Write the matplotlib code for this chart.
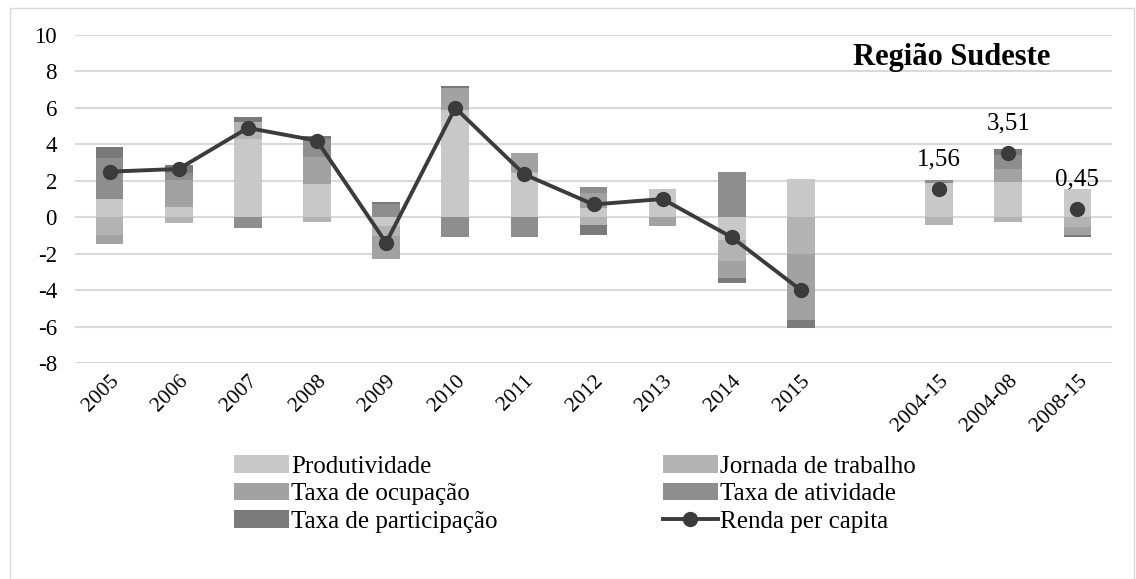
import numpy as np
import matplotlib
matplotlib.use("Agg")
import matplotlib.pyplot as plt
from matplotlib.patches import Patch, Rectangle
from matplotlib.lines import Line2D

plt.rcParams['font.family'] = ['Liberation Serif', 'DejaVu Serif']

categories = ['2005', '2006', '2007', '2008', '2009', '2010', '2011', '2012',
              '2013', '2014', '2015', '', '2004-15', '2004-08', '2008-15']

produtividade = [1.0, 0.55, 4.3, 1.8, -0.5, 5.9, 2.4, 0.48, 1.54, -1.27, 2.1,
                 np.nan, 1.88, 1.94, 1.54]
jornada = [-1.0, -0.3, 0.9, -0.25, -0.55, 0.0, 0.1, -0.44, 0.0, -1.12, -2.0,
           np.nan, -0.45, -0.25, -0.55]
ocupacao = [-0.45, 1.5, 0.0, 1.5, -1.22, 1.2, 1.0, 0.86, -0.5, -0.96, -3.65,
            np.nan, 0.0, 0.73, -0.4]
atividade = [2.25, 0.35, -0.6, 1.0, 0.7, -1.1, -1.1, 0.3, 0.0, 2.5, 0.0,
             np.nan, 0.15, 0.75, 0.0]
participacao = [0.62, 0.45, 0.3, 0.13, 0.15, 0.1, 0.05, -0.55, 0.0, -0.28, -0.45,
                np.nan, 0.0, 0.35, -0.15]
renda = [2.5, 2.65, 4.9, 4.2, -1.4, 6.0, 2.35, 0.7, 1.0, -1.1, -4.0,
         np.nan, 1.56, 3.51, 0.45]

series_names = ['Produtividade', 'Jornada de trabalho', 'Taxa de ocupação',
                'Taxa de atividade', 'Taxa de participação']
series_colors = ['#c8c8c8', '#b3b3b3', '#a2a2a2', '#8e8e8e', '#7a7a7a']
line_color = '#3b3b3b'

W, H = 1136, 579
fig = plt.figure(figsize=(W / 100, H / 100), dpi=100)
ax = fig.add_axes([75 / W, 1 - 363 / H, (1112 - 75) / W, (363 - 35) / H])

n = len(categories)
x = np.arange(n)
pos_base = np.zeros(n)
neg_base = np.zeros(n)
handles = []
for vals, color, name in zip([produtividade, jornada, ocupacao, atividade, participacao],
                             series_colors, series_names):
    v = np.nan_to_num(np.array(vals, dtype=float))
    bottom = np.where(v >= 0, pos_base, neg_base)
    ax.bar(x, v, 0.4, bottom=bottom, color=color, zorder=2, linewidth=0)
    pos_base += np.where(v > 0, v, 0)
    neg_base += np.where(v < 0, v, 0)
    handles.append(Patch(facecolor=color, label=name))

r = np.array(renda, dtype=float)
ax.plot(x[:11], r[:11], color=line_color, lw=2.8, marker='o', ms=10, zorder=4)
ax.plot(x[12:], r[12:], color=line_color, lw=0, marker='o', ms=10, zorder=4)
for xi, v in zip(x[12:], r[12:]):
    ax.annotate(f"{v:.2f}".replace('.', ','), (xi, v), xytext=(0, 17),
                textcoords='offset points', ha='center', va='baseline',
                fontsize=18, color='black', zorder=5)

handles.append(Line2D([0], [0], color=line_color, lw=2.8, marker='o', ms=10,
                      label='Renda per capita'))

ax.set_xlim(-0.5, n - 0.5)
ax.set_ylim(-8, 10)
ax.set_yticks(np.arange(-8, 11, 2))
ax.set_yticklabels([str(t) for t in range(-8, 11, 2)], fontsize=16.5)
ax.grid(axis='y', color='#d9d9d9', lw=1.5, zorder=0)
ax.set_axisbelow(True)
for s in ax.spines.values():
    s.set_visible(False)
ax.tick_params(axis='both', length=0)
ax.tick_params(axis='y', pad=13)
ax.set_xticks(x)
ax.set_xticklabels(categories, rotation=45, ha='right', rotation_mode='anchor',
                   fontsize=15.5)
ax.tick_params(axis='x', pad=6)

fig.text(952 / W, 1 - 57 / H, 'Região Sudeste', fontsize=22, fontweight='bold',
         ha='center', va='center')

order = [0, 2, 4, 1, 3, 5]
leg = fig.legend([handles[i] for i in order], [handles[i].get_label() for i in order],
                 ncol=2, loc='center', bbox_to_anchor=(575 / W, 1 - 494 / H),
                 frameon=False, fontsize=18, handlelength=2.2, handletextpad=0.1,
                 columnspacing=6.6, labelspacing=0.2, borderaxespad=0,
                 borderpad=0)

fig.patches.append(Rectangle((10 / W, 0), (W - 12) / W, 1 - 8 / H,
                             transform=fig.transFigure, fill=False,
                             edgecolor='#d9d9d9', lw=1))

fig.savefig('out.png', dpi=100)
